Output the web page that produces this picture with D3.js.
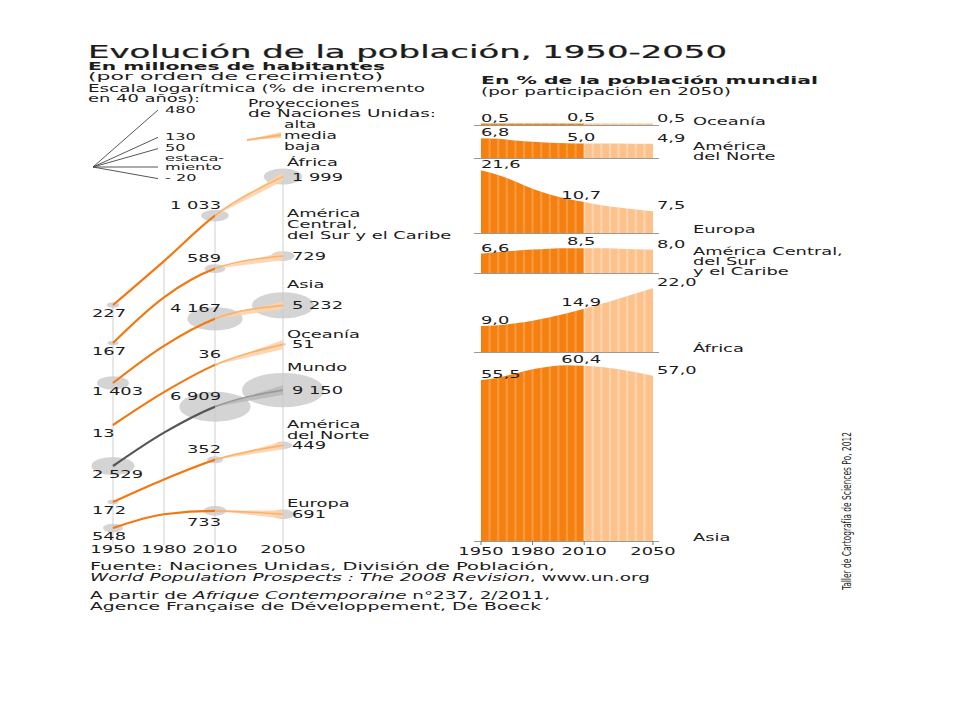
<!DOCTYPE html>
<html><head><meta charset="utf-8">
<script src="https://cdn.jsdelivr.net/npm/d3@7"></script>
<style>body{margin:0;background:#fff}svg{display:block}</style>
</head><body>
<svg id="c" width="960" height="720"></svg>
<script>
// ---------------- DATA ----------------
const yearTicks = [1950, 1980, 2010, 2050];
const regionLines = [["África"], ["América", "Central,", "del Sur y el Caribe"], ["Asia"], ["Oceanía"], ["Mundo"], ["América", "del Norte"], ["Europa"]];
const pop1950 = [227, 167, 1403, 13, 2529, 172, 548];
const pop1980 = [478, 362, 2634, 22.7, 4453, 252, 692];
const pop2010 = [1033, 589, 4167, 36, 6909, 352, 733];
const pop2050 = [1999, 729, 5232, 51, 9150, 449, 691];
const pop2050High = [2150, 780, 5600, 55, 9950, 480, 740];
const pop2050Low = [1860, 680, 4900, 47, 8450, 420, 645];
const growthLegend = [480, 130, 50, 0, -20];
const growthLegendLabels = [["480"], ["130"], ["50"], ["estaca-", "miento"], ["- 20"]];
const projLegend = ["alta", "media", "baja"];

const shareYears = [1950, 1960, 1970, 1980, 1990, 2000, 2010, 2020, 2030, 2040, 2050];
const shareRegionLines = [["Oceanía"], ["América", "del Norte"], ["Europa"], ["América Central,", "del Sur", "y el Caribe"], ["África"], ["Asia"]];
const shareOceania      = [0.5, 0.5, 0.5, 0.5, 0.5, 0.5, 0.5, 0.5, 0.5, 0.5, 0.5];
const shareNorthAmerica = [6.8, 6.6, 6.0, 5.6, 5.3, 5.1, 5.0, 5.0, 5.0, 4.9, 4.9];
const shareEurope       = [21.6, 20.0, 17.8, 15.3, 13.3, 11.8, 10.7, 9.6, 8.8, 8.1, 7.5];
const shareLatinAmerica = [6.6, 7.2, 7.7, 8.1, 8.4, 8.5, 8.5, 8.5, 8.4, 8.2, 8.0];
const shareAfrica       = [9.0, 9.2, 9.9, 10.8, 12.0, 13.4, 14.9, 16.6, 18.4, 20.2, 22.0];
const shareAsia         = [55.5, 56.3, 57.8, 59.2, 60.2, 60.6, 60.4, 60.0, 59.2, 58.2, 57.0];
const shareSeries = [shareOceania, shareNorthAmerica, shareEurope, shareLatinAmerica, shareAfrica, shareAsia];
const shareLabelYears = [1950, 2010, 2050];

// ---------------- LAYOUT ----------------
const SX = 1.7;
const FS = 10.5;
const svg = d3.select("#c").attr("font-family", "DejaVu Sans, Verdana, sans-serif");
const TXT = "#1c1c1c";
const ORANGE = "#f27810", ORANGE_LIGHT = "#fbb26e", FAN = "#fdd3ab";
const AREA_DARK = "#f5800f", AREA_LIGHT = "#fdc28b";

function txt(parent, x, y, s, o = {}) {
  const sx = o.sx || SX;
  const t = parent.append("text")
    .attr("transform", `translate(${x},${y}) scale(${sx},1)`)
    .attr("font-size", o.size || FS)
    .attr("font-weight", o.weight || "normal")
    .attr("text-anchor", o.anchor || "start")
    .attr("fill", o.fill || TXT);
  if (Array.isArray(s)) s.forEach(p => t.append("tspan").attr("font-style", p.i ? "italic" : null).text(p.t));
  else t.text(s);
  if (o.width) t.attr("textLength", o.width / sx).attr("lengthAdjust", "spacingAndGlyphs");
  return t;
}
const locale = d3.formatLocale({decimal: ",", thousands: " ", grouping: [3], currency: ["", ""]});
const fmtPop = locale.format(",d");
const fmtPct = locale.format(".1f");

// ---------------- TITLES ----------------
txt(svg, 88, 57.5, "Evolución de la población, 1950-2050", {size: 18, width: 639}).attr("stroke", TXT).attr("stroke-width", 0.25);
txt(svg, 88, 70, "En millones de habitantes", {size: 10.5, weight: "bold", width: 297});
txt(svg, 88, 80, "(por orden de crecimiento)", {size: 10.5, width: 295});
txt(svg, 88, 92, "Escala logarítmica (% de incremento", {size: 10, width: 337});
txt(svg, 88, 102, "en 40 años):", {size: 10, width: 112});
txt(svg, 481, 84, "En % de la población mundial", {size: 10.5, weight: "bold", width: 337});
txt(svg, 481, 95, "(por participación en 2050)", {size: 10.5, width: 250});

// growth legend fan
const fanO = {x: 93, y: 167};
const gy = d3.scalePow().exponent(0.5).domain([0, 480]).range([0, -57]);
const gLeg = svg.append("g");
growthLegend.forEach((g, i) => {
  const ey = fanO.y + gy(g);
  gLeg.append("line").attr("x1", fanO.x).attr("y1", fanO.y).attr("x2", 158).attr("y2", ey)
    .attr("stroke", "#444").attr("stroke-width", 0.9);
  const lines = growthLegendLabels[i];
  lines.forEach((l, j) => txt(gLeg, 165, lines.length > 1 ? ey - 6 + j * 8.5 : ey + 2.5, l, {size: 9.5}));
});

// projections legend
txt(svg, 248, 107, "Proyecciones", {size: 10});
txt(svg, 248, 117, "de Naciones Unidas:", {size: 10, width: 188});
projLegend.forEach((p, i) => txt(svg, 284, 128 + i * 11, p, {size: 10}));
const lx = d3.scaleLinear().domain([2010, 2050]).range([247, 281]);
const legFan = [{year: 2010, lo: 0, mid: 0, hi: 0}, {year: 2050, lo: -2, mid: -5, hi: -8}];
svg.append("path").datum(legFan)
  .attr("d", d3.area().x(d => lx(d.year)).y0(d => 140 + d.lo).y1(d => 140 + d.hi))
  .attr("fill", FAN);
svg.append("path").datum(legFan)
  .attr("d", d3.line().x(d => lx(d.year)).y(d => 140 + d.mid))
  .attr("fill", "none").attr("stroke", ORANGE_LIGHT).attr("stroke-width", 2);

// ---------------- LEFT PANEL ----------------
const xL = d3.scaleLinear().domain([1950, 2050]).range([113, 283]);
const rise = d3.scaleLog().domain([1, Math.E]).range([0, 59]);
const rE = d3.scaleSqrt().domain([0, 9150]).range([0, 41]);
const leftBase = [305, 343, 383, 425, 466, 502, 528];
const nameOffset = [-15, -21, -21, -10, -23, -10, -11];
const yL = (i, v) => leftBase[i] - rise(v / pop1950[i]);
const popAt = [pop1950, pop1980, pop2010, pop2050];
const series = pop1950.map((_, i) => yearTicks.map((yr, k) => ({year: yr, v: popAt[k][i]})));
const left = svg.append("g");

yearTicks.forEach((yr, k) => {
  left.append("line").attr("x1", xL(yr)).attr("x2", xL(yr))
    .attr("y1", yL(0, popAt[k][0])).attr("y2", 545)
    .attr("stroke", "#e2e2e2").attr("stroke-width", 1.6);
  txt(left, xL(yr), 553, String(yr), {anchor: "middle"});
});

series.forEach((s, i) => {
  s.filter(d => d.year !== 1980).forEach(d => {
    const r = rE(d.v);
    left.append("ellipse").attr("cx", xL(d.year)).attr("cy", yL(i, d.v))
      .attr("rx", r).attr("ry", r * 0.42).attr("fill", "#c9c9c9").attr("opacity", 0.8);
  });
});

const defs = svg.append("defs");
defs.append("clipPath").attr("id", "histL").append("rect").attr("x", 0).attr("y", 0).attr("width", xL(2010)).attr("height", 720);
defs.append("clipPath").attr("id", "projL").append("rect").attr("x", xL(2010)).attr("y", 0).attr("width", 960).attr("height", 720);

series.forEach((s, i) => {
  const world = regionLines[i][0] === "Mundo";
  const fanData = [{year: 2010, lo: pop2010[i], hi: pop2010[i]}, {year: 2050, lo: pop2050Low[i], hi: pop2050High[i]}];
  left.append("path").datum(fanData)
    .attr("d", d3.area().x(d => xL(d.year)).y0(d => yL(i, d.lo)).y1(d => yL(i, d.hi)))
    .attr("fill", world ? "#b9b9b9" : FAN).attr("opacity", 0.9);
  const line = d3.line().x(d => xL(d.year)).y(d => yL(i, d.v)).curve(d3.curveMonotoneX);
  left.append("path").datum(s).attr("d", line).attr("clip-path", "url(#projL)")
    .attr("fill", "none").attr("stroke", world ? "#9a9a9a" : ORANGE_LIGHT).attr("stroke-width", 1.6);
  left.append("path").datum(s).attr("d", line).attr("clip-path", "url(#histL)")
    .attr("fill", "none").attr("stroke", world ? "#555" : ORANGE).attr("stroke-width", 2.2);

  txt(left, 92, yL(i, pop1950[i]) + 12, fmtPop(pop1950[i]));
  const below = pop2010[i] > pop2050[i];
  txt(left, xL(2010) + 6, yL(i, pop2010[i]) + (below ? 15 : -7), fmtPop(pop2010[i]), {anchor: "end"});
  const lb = yL(i, pop2050[i]) + 4;
  txt(left, 292, lb, fmtPop(pop2050[i]));
  const nl = regionLines[i];
  nl.forEach((l, j) => txt(left, 287, lb + nameOffset[i] - (nl.length - 1 - j) * 11, l));
});

// ---------------- RIGHT PANEL ----------------
const xR = d3.scaleLinear().domain([1950, 2050]).range([481, 653]);
const hP = d3.scaleLinear().domain([0, 100]).range([0, 290]);
const bandBase = [125, 158, 233, 273, 352, 541];
const right = svg.append("g");
defs.append("clipPath").attr("id", "histR").append("rect").attr("x", 0).attr("y", 0).attr("width", xR(2010)).attr("height", 720);
defs.append("clipPath").attr("id", "projR").append("rect").attr("x", xR(2010)).attr("y", 0).attr("width", 960).attr("height", 720);

shareSeries.forEach((vals, i) => {
  const base = bandBase[i];
  const data = shareYears.map((yr, k) => ({year: yr, v: vals[k]}));
  const area = d3.area().x(d => xR(d.year)).y0(base).y1(d => base - hP(d.v)).curve(d3.curveMonotoneX);
  const cid = "band" + i;
  defs.append("clipPath").attr("id", cid).append("path").datum(data).attr("d", area);
  right.append("path").datum(data).attr("d", area).attr("fill", AREA_DARK).attr("clip-path", "url(#histR)");
  right.append("path").datum(data).attr("d", area).attr("fill", AREA_LIGHT).attr("clip-path", "url(#projR)");
  const st = right.append("g").attr("clip-path", `url(#${cid})`);
  d3.range(1955, 2050, 5).forEach(yr => {
    st.append("line").attr("x1", xR(yr)).attr("x2", xR(yr)).attr("y1", 0).attr("y2", 720)
      .attr("stroke", "#fff").attr("stroke-opacity", yr < 2010 ? 0.2 : 0.3).attr("stroke-width", 2.2);
  });
  right.append("line").attr("x1", 474).attr("x2", 659).attr("y1", base + 0.5).attr("y2", base + 0.5)
    .attr("stroke", "#9a9a9a").attr("stroke-width", 1);

  shareLabelYears.forEach((yr, j) => {
    const v = vals[shareYears.indexOf(yr)];
    const top = base - hP(v);
    if (j === 0) txt(right, xR(yr), top - 2, fmtPct(v));
    else if (j === 1) txt(right, xR(yr) - 3, top - 3, fmtPct(v), {anchor: "middle"});
    else txt(right, xR(yr) + 4, top - 2, fmtPct(v));
  });
  const nl = shareRegionLines[i];
  nl.forEach((l, j) => txt(right, 693, base + (nl.length > 1 ? 2 : 0) - (nl.length - 1 - j) * 10, l));
});

yearTicks.forEach(yr => {
  right.append("line").attr("x1", xR(yr)).attr("x2", xR(yr)).attr("y1", 541).attr("y2", 545)
    .attr("stroke", "#777").attr("stroke-width", 1);
  txt(right, xR(yr), 555, String(yr), {anchor: "middle"});
});

// ---------------- FOOTER ----------------
txt(svg, 90, 570, "Fuente: Naciones Unidas, División de Población,", {size: 10.5, width: 465});
txt(svg, 90, 581, [{t: "World Population Prospects : The 2008 Revision", i: true}, {t: ", www.un.org"}], {size: 10.5, width: 560});
txt(svg, 90, 599, [{t: "A partir de "}, {t: "Afrique Contemporaine", i: true}, {t: " n°237, 2/2011,"}], {size: 10.5, width: 460});
txt(svg, 90, 610, "Agence Française de Développement, De Boeck", {size: 10.5, width: 451});

svg.append("text")
  .attr("transform", "translate(851,590) rotate(-90)")
  .attr("font-family", "DejaVu Sans Condensed, DejaVu Sans, sans-serif")
  .attr("font-size", 13).attr("fill", TXT)
  .attr("textLength", 158).attr("lengthAdjust", "spacingAndGlyphs")
  .text("Taller de Cartografía de Sciences Po, 2012");
</script>
</body></html>
